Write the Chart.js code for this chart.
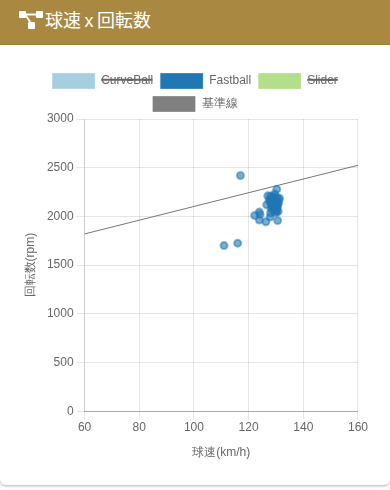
<!DOCTYPE html>
<html lang="ja">
<head>
<meta charset="utf-8">
<title>球速 x 回転数</title>
<script src="https://cdn.jsdelivr.net/npm/chart.js@4"></script>
<style>
  html, body { margin: 0; padding: 0; background: #fff; width: 390px; height: 490px; overflow: hidden; font-family: "Liberation Sans", "Noto Sans CJK JP", sans-serif; }
  .card { position: absolute; left: 0; top: 0; width: 390px; height: 485px; background: #fff; border-radius: 0 0 6px 6px; box-shadow: 0 1px 3px rgba(0,0,0,.3); overflow: hidden; }
  .head { height: 44px; background: #a98842; border-bottom: 1px solid #9c7d3a; color: #fff; font-size: 18px; line-height: 44px; position: relative; }
  .head svg { position: absolute; left: 19px; top: 11px; }
  .head span { position: absolute; left: 45px; top: -1px; word-spacing: -1.5px; }
  .wrap { position: absolute; left: 14px; top: 66px; width: 355px; height: 398px; }
</style>
</head>
<body>
<div class="card">
  <div class="head">
    <svg width="25" height="20" viewBox="0 0 25 20"><g fill="#fff"><rect x="0" y="0" width="7" height="7" rx="1"/><rect x="17" y="0" width="7" height="7" rx="1"/><rect x="9" y="11" width="7" height="7" rx="1"/><rect x="5" y="2.500" width="14" height="2"/><path d="M5 3.500l1.600-1 6 9-1.600 1z"/></g></svg>
    <span>球速 x 回転数</span>
  </div>
  <div class="wrap"><canvas id="chart" width="355" height="398"></canvas></div>
</div>
<script>
// 球速(km/h) / 回転数(rpm)
const fastballSpeed = [117, 111, 116, 122.2, 123.9, 123.9, 124.2, 126.3, 127.9, 128, 130.6, 130.3, 127, 131.3, 126.6,
  127.5, 128, 128.5, 129, 129.5, 130, 130.5, 131, 128.2, 128.8, 129.2, 129.8, 130.2, 130.8, 131, 128.4, 129, 129.6, 130.4, 127.8, 128.6, 129.4, 130, 130.6,
  128.3, 129.1, 129.9, 130.3, 128.9, 129.5, 130.1, 129.3];
const fastballSpin = [2420, 1700, 1725, 2010, 2044, 1962, 2020, 1945, 1993, 2034, 1958, 2280, 2211, 2187, 2119,
  2170, 2210, 2130, 2190, 2230, 2160, 2100, 2140, 2080, 2150, 2110, 2070, 2200, 2050, 2170, 2180, 2060, 2120, 2085, 2150, 2095, 2175, 2040, 2125,
  2120, 2090, 2135, 2055, 2205, 2165, 2075, 2145];
const lineSpeed = [60, 160];
const lineSpin = [1820, 2525];
const legendColors = ["#a6cee3", "#1f78b4", "#b2df8a", "#808080"];

const toPoints = (xs, ys) => xs.map((x, i) => ({ x, y: ys[i] }));

// 凡例とグラフの間を詰める
const legendGap = {
  id: "legendGap",
  beforeInit(chart) {
    const fit = chart.legend.fit;
    chart.legend.fit = function () {
      fit.call(this);
      this.height -= 3;
    };
  }
};

new Chart(document.getElementById("chart"), {
  type: "scatter",
  plugins: [legendGap],
  data: {
    datasets: [
      { label: "CurveBall", data: [], hidden: true },
      {
        label: "Fastball",
        data: toPoints(fastballSpeed, fastballSpin),
        backgroundColor: "rgba(31,120,180,0.6)",
        borderColor: "rgba(31,120,180,0.5)",
        borderWidth: 2,
        pointRadius: 3.5
      },
      { label: "Slider", data: [], hidden: true },
      {
        label: "基準線",
        data: toPoints(lineSpeed, lineSpin),
        showLine: true,
        pointRadius: 0,
        borderColor: "#777",
        borderWidth: 1
      }
    ]
  },
  options: {
    responsive: false,
    animation: false,
    layout: { padding: { left: 7, right: 0 } },
    plugins: {
      legend: {
        labels: {
          boxWidth: 43,
          boxHeight: 16,
          padding: 7,
          color: "#666",
          font: { size: 12 },
          // 凡例の色は点の透明度と別に固定
          generateLabels: (chart) => chart.data.datasets.map((ds, i) => ({
            text: ds.label,
            fillStyle: legendColors[i],
            strokeStyle: "rgba(255,255,255,0.3)",
            lineWidth: 1,
            hidden: !chart.isDatasetVisible(i),
            datasetIndex: i,
            fontColor: "#666"
          }))
        }
      },
      tooltip: { enabled: false }
    },
    scales: {
      x: {
        type: "linear",
        min: 60,
        max: 160,
        border: { color: "#aaa" },
        ticks: { stepSize: 20, color: "#666", padding: 1, font: { size: 12 } },
        title: { display: true, text: "球速(km/h)", color: "#666", padding: { top: 10, bottom: 4 }, font: { size: 12 } }
      },
      y: {
        min: 0,
        max: 3000,
        ticks: { stepSize: 500, color: "#666", font: { size: 12 }, callback: (v) => String(v) },
        title: { display: true, text: "回転数(rpm)", color: "#666", padding: { top: 2, bottom: 6.5 }, font: { size: 12 } }
      }
    }
  }
});
</script>
</body>
</html>
